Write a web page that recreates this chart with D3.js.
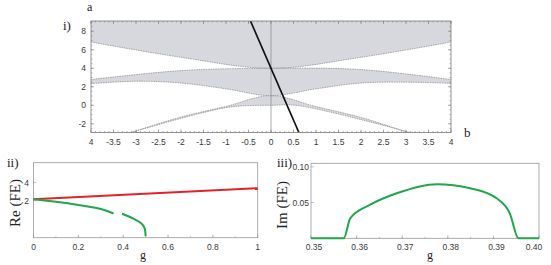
<html>
<head>
<style>
body { margin: 0; background: #fff; }
text { font-family: "Liberation Sans", Arial, sans-serif; fill: #3a3a3a; }
.serif { font-family: "Liberation Serif", "Times New Roman", serif; fill: #222; }
</style>
</head>
<body>
<svg width="551" height="265"></svg>
<script src="https://d3js.org/d3.v7.min.js"></script>
<script>
// ---- panel i) band edges as [x, E]
var upperEdge = [[-4, 6.84], [-2, 5.19], [0, 4.0], [2, 5.19], [4, 6.84]];
var midTop = [[-4, 2.78], [-2, 3.75], [0, 4.0], [2, 3.86], [4, 2.78]];
var midBottom = [[-4, 2.34], [-3, 2.6], [-2, 2.41], [-1, 1.78], [0, 1.04], [1, 1.78], [2, 2.41], [3, 2.5], [4, 2.38]];
var lowTop = [[-3.11, -2.94], [-2, -1.27], [-1, -0.12], [0, 1.04], [1, -0.14], [2.04, -1.37], [3.04, -2.94]];
var lowBottom = [[-3.11, -2.94], [-1.6, -0.9], [-0.85, -0.15], [0, 0], [0.6, -0.03], [3.09, -2.94]];
var crossLine = {at0: 4, slope: -11.2};

var topXTicks = [-4, -3.5, -3, -2.5, -2, -1.5, -1, -0.5, 0, 0.5, 1, 1.5, 2, 2.5, 3, 3.5, 4];
var topXLabels = ["4", "-3.5", "-3", "-2.5", "-2", "-1.5", "-1", "-0.5", "0", "0.5", "1", "1.5", "2", "2.5", "3", "3.5", "4"];
var topYTicks = [-2, 0, 2, 4, 6, 8];

// ---- panel ii) Re(FE) vs g
var reG = [0, 1];
var reRed = [2.15, 3.38];
var greenG1 = [0, 0.1, 0.2, 0.3, 0.357];
var greenRe1 = [2.15, 1.87, 1.52, 1.08, 0.58];
var greenG2 = [0.395, 0.42, 0.45, 0.48, 0.495, 0.5];
var greenRe2 = [0.55, 0.3, -0.05, -0.5, -1.0, -1.95];
var iiXTicks = [0, 0.2, 0.4, 0.6, 0.8, 1];
var iiXLabels = ["0", "0.2", "0.4", "0.6", "0.8", "1"];
var iiYTicks = [2, 4];

// ---- panel iii) Im(FE) vs g
var imG = [0.35, 0.3572, 0.3586, 0.363, 0.3688, 0.3776, 0.3849, 0.3907, 0.3936, 0.3955, 0.40];
var imVal = [0, 0, 0.028, 0.047, 0.063, 0.0758, 0.070, 0.056, 0.035, 0, 0];
var iiiXTicks = [0.35, 0.36, 0.37, 0.38, 0.39, 0.40];
var iiiXLabels = ["0.35", "0.36", "0.37", "0.38", "0.39", "0.40"];
var iiiYTicks = [0.05, 0.10];
var iiiYLabels = ["0.05", "0.10"];

var svg = d3.select("svg");
svg.append("rect").attr("width", 551).attr("height", 265).attr("fill", "#fff");

function frame(g, x, y, col) {
	var xr = x.range(), yr = y.range();
	g.append("rect")
		.attr("x", xr[0]).attr("y", yr[1])
		.attr("width", xr[1] - xr[0]).attr("height", yr[0] - yr[1])
		.attr("fill", "none").attr("stroke", col).attr("stroke-width", 0.8);
}

function ticks(g, x, y, xt, yt, len, col, sides) {
	var xr = x.range(), yr = y.range();
	xt.forEach(function(t) {
		g.append("line").attr("x1", x(t)).attr("x2", x(t)).attr("y1", yr[0]).attr("y2", yr[0] - len)
			.attr("stroke", col).attr("stroke-width", 0.6);
		if (sides) g.append("line").attr("x1", x(t)).attr("x2", x(t)).attr("y1", yr[1]).attr("y2", yr[1] + len)
			.attr("stroke", col).attr("stroke-width", 0.6);
	});
	yt.forEach(function(t) {
		g.append("line").attr("x1", xr[0]).attr("x2", xr[0] + len).attr("y1", y(t)).attr("y2", y(t))
			.attr("stroke", col).attr("stroke-width", 0.6);
		if (sides) g.append("line").attr("x1", xr[1]).attr("x2", xr[1] - len).attr("y1", y(t)).attr("y2", y(t))
			.attr("stroke", col).attr("stroke-width", 0.6);
	});
}

// ================= panel i)
var x1 = d3.scaleLinear().domain([-4, 4]).range([91, 451]);
var y1 = d3.scaleLinear().domain([-2.94, 9.11]).range([132.5, 21]);
var gi = svg.append("g");

gi.append("clipPath").attr("id", "clipi").append("rect")
	.attr("x", 91).attr("y", 21).attr("width", 360).attr("height", 111.5);

var edge = d3.line().x(function(d) { return x1(d[0]); }).y(function(d) { return y1(d[1]); })
	.curve(d3.curveCatmullRom.alpha(0.5));

var yTop = y1.domain()[1];
var bandPaths = [
	"M" + x1(-4) + "," + y1(yTop) + "L" + edge(upperEdge).substring(1) + "L" + x1(4) + "," + y1(yTop) + "Z",
	edge(midTop) + "L" + edge(midBottom.slice().reverse()).substring(1) + "Z",
	edge(lowTop) + "L" + edge(lowBottom.slice().reverse()).substring(1) + "Z"
];
var plot = gi.append("g").attr("clip-path", "url(#clipi)");
plot.selectAll("path.band").data(bandPaths).enter().append("path")
	.attr("class", "band").attr("d", function(d) { return d; })
	.attr("fill", "#d7d8dd").attr("stroke", "none");

plot.selectAll("path.edge").data([upperEdge, midTop, midBottom, lowTop, lowBottom]).enter().append("path")
	.attr("class", "edge").attr("d", edge)
	.attr("fill", "none").attr("stroke", "#8c8c8c").attr("stroke-width", 0.7)
	.attr("stroke-dasharray", "1.6,0.8");

// vertical line at 0
plot.append("line").attr("x1", x1(0)).attr("x2", x1(0)).attr("y1", 21).attr("y2", 132.5)
	.attr("stroke", "#888").attr("stroke-width", 0.7);

// dark crossing line
var yLo = y1.domain()[0], yHi = y1.domain()[1];
plot.append("line")
	.attr("x1", x1((yHi - crossLine.at0) / crossLine.slope)).attr("y1", y1(yHi))
	.attr("x2", x1((yLo - crossLine.at0) / crossLine.slope)).attr("y2", y1(yLo))
	.attr("stroke", "#111").attr("stroke-width", 1.7);

frame(gi, x1, y1, "#7a7a7a");
ticks(gi, x1, y1, d3.range(-4, 4.001, 0.1), d3.range(-2.5, 9.01, 0.5), 1.5, "#888", true);
ticks(gi, x1, y1, topXTicks, topYTicks, 3, "#777", true);

gi.selectAll("text.xl").data(topXTicks).enter().append("text")
	.attr("class", "xl").attr("x", function(d) { return x1(d); }).attr("y", 145)
	.attr("text-anchor", "middle").attr("font-size", 8.5)
	.text(function(d, i) { return topXLabels[i]; });
gi.selectAll("text.yl").data(topYTicks).enter().append("text")
	.attr("class", "yl").attr("x", 86).attr("y", function(d) { return y1(d) + 3; })
	.attr("text-anchor", "end").attr("font-size", 8.5)
	.text(function(d) { return d; });

svg.append("text").attr("class", "serif").attr("x", 87).attr("y", 11).attr("font-size", 12).text("a");
svg.append("text").attr("class", "serif").attr("x", 63).attr("y", 30).attr("font-size", 13).text("i)");
svg.append("text").attr("class", "serif").attr("x", 464).attr("y", 137).attr("font-size", 13).text("b");

// ================= panel ii)
var x2 = d3.scaleLinear().domain([0, 1]).range([33.5, 257.7]);
var y2 = d3.scaleLinear().domain([-2.1, 6.2]).range([237.7, 162.7]);
var gii = svg.append("g");
frame(gii, x2, y2, "#999");
ticks(gii, x2, y2, d3.range(0, 1.001, 0.1), [], 1.5, "#999", false);
ticks(gii, x2, y2, iiXTicks, iiYTicks, 3, "#999", false);

var ln2 = d3.line().x(function(d) { return x2(d[0]); }).y(function(d) { return y2(d[1]); })
	.curve(d3.curveCatmullRom.alpha(0.5));
gii.append("path").attr("d", ln2(d3.zip(reG, reRed)))
	.attr("fill", "none").attr("stroke", "#e62028").attr("stroke-width", 2);
[d3.zip(greenG1, greenRe1), d3.zip(greenG2, greenRe2)].forEach(function(seg) {
	gii.append("path").attr("d", ln2(seg))
		.attr("fill", "none").attr("stroke", "#1ea84a").attr("stroke-width", 2);
});

gii.selectAll("text.xl").data(iiXTicks).enter().append("text")
	.attr("class", "xl").attr("x", function(d) { return x2(d); }).attr("y", 250)
	.attr("text-anchor", "middle").attr("font-size", 8.5)
	.text(function(d, i) { return iiXLabels[i]; });
gii.selectAll("text.yl").data(iiYTicks).enter().append("text")
	.attr("class", "yl").attr("x", 26.7).attr("y", function(d) { return y2(d) + 3; })
	.attr("text-anchor", "middle").attr("font-size", 8.5)
	.text(function(d) { return d; });
svg.append("text").attr("class", "serif").attr("x", 7).attr("y", 167).attr("font-size", 13).text("ii)");
svg.append("text").attr("class", "serif").attr("x", 143).attr("y", 259).attr("text-anchor", "middle").attr("font-size", 12).text("g");
svg.append("text").attr("class", "serif").attr("transform", "translate(20,203) rotate(-90)")
	.attr("text-anchor", "middle").attr("font-size", 15).text("Re (FE)");

// ================= panel iii)
var x3 = d3.scaleLinear().domain([0.35, 0.40]).range([311, 539]);
var y3 = d3.scaleLinear().domain([0, 0.105]).range([238.3, 163.3]);
var giii = svg.append("g");
frame(giii, x3, y3, "#999");
ticks(giii, x3, y3, d3.range(0.35, 0.4001, 0.005), [], 1.5, "#999", false);
ticks(giii, x3, y3, iiiXTicks, iiiYTicks, 3, "#999", false);

var ln3 = d3.line().x(function(d) { return x3(d[0]); }).y(function(d) { return y3(d[1]); })
	.curve(d3.curveMonotoneX);
giii.append("path").attr("d", ln3(d3.zip(imG, imVal)))
	.attr("fill", "none").attr("stroke", "#1ea84a").attr("stroke-width", 2);

giii.selectAll("text.xl").data(iiiXTicks).enter().append("text")
	.attr("class", "xl").attr("x", function(d, i) { return i == iiiXTicks.length - 1 ? x3(d) - 5 : x3(d) + 3; }).attr("y", 250)
	.attr("text-anchor", "middle").attr("font-size", 8.5)
	.text(function(d, i) { return iiiXLabels[i]; });
giii.selectAll("text.yl").data(iiiYTicks).enter().append("text")
	.attr("class", "yl").attr("x", 309).attr("y", function(d) { return y3(d) + 3; })
	.attr("text-anchor", "end").attr("font-size", 8.5)
	.text(function(d, i) { return iiiYLabels[i]; });
svg.append("text").attr("class", "serif").attr("x", 277).attr("y", 167).attr("font-size", 13).text("iii)");
svg.append("text").attr("class", "serif").attr("x", 430).attr("y", 259).attr("text-anchor", "middle").attr("font-size", 12).text("g");
svg.append("text").attr("class", "serif").attr("transform", "translate(287,205) rotate(-90)")
	.attr("text-anchor", "middle").attr("font-size", 15).text("Im (FE)");
</script>
</body>
</html>
